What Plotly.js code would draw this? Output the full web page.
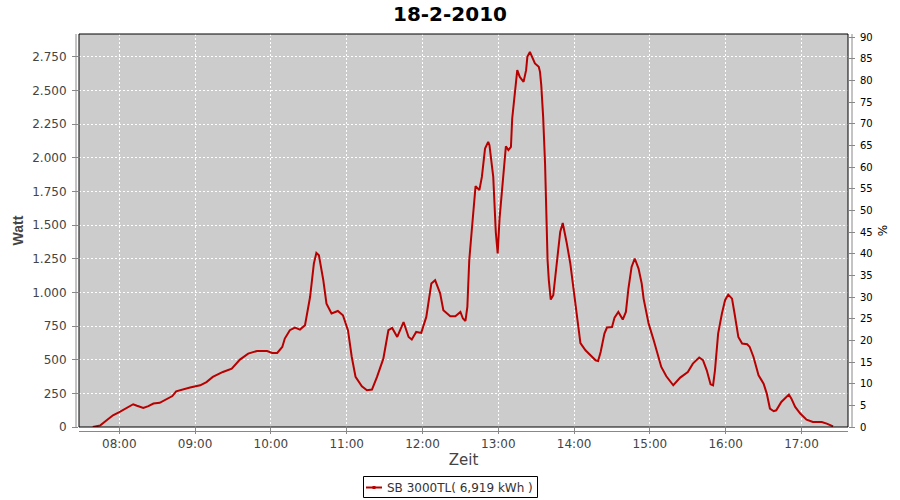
<!DOCTYPE html>
<html>
<head>
<meta charset="utf-8">
<script src="https://cdn.plot.ly/plotly-3.0.1.min.js"></script>
<style>
html,body{margin:0;padding:0;background:#fff}#chart{width:900px;height:500px}
</style>
</head>
<body>
<div id="chart"></div>
<script>
// Chart values
const chartTitle = "18-2-2010";
const day = "2010-02-18";
const seriesName = "SB 3000TL( 6,919 kWh )";
const times = [
 "07:39","07:45","07:50","07:55","08:00","08:06","08:11","08:14","08:19","08:23",
 "08:27","08:32","08:37:30","08:42","08:45","08:50","08:56","09:04","09:09","09:14",
 "09:22","09:29","09:35:30","09:42","09:49","09:57","10:01","10:05","10:09","10:11",
 "10:15","10:19","10:23","10:27","10:31","10:34","10:36","10:38","10:41:30","10:44",
 "10:48","10:53","10:57","11:01","11:04","11:07","11:12","11:16","11:20","11:24",
 "11:29","11:33","11:36","11:40","11:45","11:49","11:51:30","11:55","11:59","12:03",
 "12:07","12:10","12:14","12:16:30","12:22","12:26","12:30","12:32","12:34","12:35:30",
 "12:37","12:39","12:41","12:42","12:45","12:47","12:49:30","12:52","12:53","12:55",
 "12:56","12:58","12:59:30","13:01","13:04","13:06","13:08","13:10","13:11","13:13",
 "13:15","13:17","13:20","13:22","13:23","13:25","13:27","13:29","13:32","13:33",
 "13:34","13:35:30","13:37","13:38","13:39","13:40","13:41:30","13:43:30","13:45","13:47",
 "13:49","13:51","13:52","13:54","13:57","13:59","14:01","14:02:30","14:05","14:09",
 "14:13","14:17","14:19","14:21","14:24","14:26","14:30","14:32","14:35","14:38:30",
 "14:41","14:43","14:45:30","14:48","14:51","14:53:30","14:55","14:59","15:03","15:07",
 "15:09","15:13","15:18:30","15:24","15:30","15:34","15:39","15:42","15:45","15:48",
 "15:50","15:51:30","15:54","15:57","15:59:30","16:02","16:05","16:07","16:10","16:13",
 "16:17","16:19","16:22","16:26","16:30","16:32:30","16:35","16:38","16:40","16:44",
 "16:50","16:52","16:55","16:59","17:04","17:09","17:16","17:20","17:25"
];
const watt = [
 0,12,50,87,111,141,169,158,141,155,
 174,180,206,230,265,280,293,310,334,372,
 409,434,501,545,565,565,550,550,595,657,
 719,739,724,756,966,1214,1293,1276,1090,917,
 843,862,830,719,520,372,302,273,278,372,
 508,719,736,669,780,669,650,706,699,818,
 1066,1090,992,868,823,823,855,806,788,892,
 1239,1462,1650,1790,1760,1858,2069,2118,2094,1958,
 1858,1450,1290,1550,1858,2086,2057,2081,2292,2478,
 2651,2601,2564,2651,2750,2787,2750,2701,2676,2639,
 2540,2304,1960,1586,1239,1090,947,979,1115,1301,
 1449,1516,1474,1375,1214,1066,917,768,624,570,
 533,496,491,557,694,739,743,813,855,798,
 855,1029,1189,1252,1177,1066,954,768,644,520,
 446,377,310,367,409,471,516,496,421,317,
 310,421,694,843,942,984,954,843,669,620,
 615,595,520,384,322,248,137,117,124,186,
 241,211,149,100,55,37,37,25,5
];
const xRange = ["07:28:06","17:36:48"];
const wattRange = [0, 2920];
const pctRange = [0, 90.7];
const xTitle = "Zeit", yTitle = "Watt", y2Title = "%";

const tick = "DejaVu Sans, sans-serif";
const lineColor = "#b80000";
const xs = times.map(t => day + " " + (t.length === 5 ? t + ":00" : t));

const traces = [
  {x: xs, y: watt, type: "scatter", mode: "lines", name: seriesName,
   line: {color: lineColor, width: 2}, hoverinfo: "x+y", showlegend: false},
  {x: [], y: [], type: "scatter", mode: "lines", yaxis: "y2", showlegend: false, hoverinfo: "skip"}
];

// pixel helpers for the legend box placed under the plot (plot area 79..848 x 34..427)
const px = v => (v - 79) / 769;
const py = v => (427 - v) / 393;

const layout = {
  width: 900, height: 500,
  margin: {l: 79, r: 52, t: 34, b: 73},
  paper_bgcolor: "#ffffff", plot_bgcolor: "#cccccc",
  separators: ",.",
  showlegend: false,
  title: {text: chartTitle, x: 0.5, xanchor: "center", xref: "container",
          y: 0.973, yanchor: "middle", yref: "container",
          font: {family: "DejaVu Sans, sans-serif", size: 20, color: "#000", weight: "bold"}},
  xaxis: {
    type: "date", range: xRange.map(t => day + " " + t),
    tick0: day + " 08:00:00", dtick: 3600000, tickformat: "%H:%M",
    showgrid: true, gridcolor: "#ffffff", gridwidth: 1, griddash: "2px,2px",
    zeroline: false, showline: false,
    ticks: "outside", ticklen: 6, tickcolor: "#888888", tickwidth: 1,
    tickfont: {family: tick, size: 12, color: "#444444"},
    title: {text: xTitle, font: {family: tick, size: 15, color: "#444444"}, standoff: 4}
  },
  yaxis: {
    range: wattRange, dtick: 250, tick0: 0, tickformat: ",d",
    showgrid: true, gridcolor: "#ffffff", gridwidth: 1, griddash: "2px,2px",
    zeroline: false, showline: false,
    ticks: "outside", ticklen: 6, tickcolor: "#888888", tickwidth: 1,
    ticklabelstandoff: 3,
    tickfont: {family: tick, size: 12, color: "#444444"},
    title: {text: yTitle, font: {family: "Liberation Sans, Arial, sans-serif", size: 14, color: "#444444", weight: "bold"}, standoff: 5}
  },
  yaxis2: {
    overlaying: "y", side: "right", range: pctRange, dtick: 5, tick0: 0,
    showgrid: false, zeroline: false, showline: false,
    ticks: "outside", ticklen: 6, tickcolor: "#888888", tickwidth: 1,
    ticklabelstandoff: 3,
    tickfont: {family: tick, size: 10, color: "#000000"},
    title: {text: y2Title, font: {family: tick, size: 12, color: "#000000"}, standoff: 6}
  },
  annotations: [
    {text: seriesName, xref: "paper", yref: "paper", x: px(385), y: py(487.5),
     xanchor: "left", yanchor: "middle", showarrow: false,
     font: {family: tick, size: 12, color: "#333333"}}
  ],
  shapes: [
    {type: "line", xref: "paper", yref: "paper", x0: px(76), x1: px(76), y0: 0, y1: 1, line: {color: "#888888", width: 1}},
    {type: "line", xref: "paper", yref: "paper", x0: px(852), x1: px(852), y0: 0, y1: 1, line: {color: "#888888", width: 1}},
    {type: "line", xref: "paper", yref: "paper", x0: 0, x1: 1, y0: py(431.5), y1: py(431.5), line: {color: "#888888", width: 1}},
    {type: "rect", xref: "paper", yref: "paper", x0: 0, x1: 1, y0: 0, y1: 1, line: {color: "#000000", width: 1}, layer: "above"},
    // legend box
    {type: "rect", xref: "paper", yref: "paper", x0: px(363.5), x1: px(537.5), y0: py(497.5), y1: py(476.5), line: {color: "#000000", width: 1}, fillcolor: "#ffffff"},
    {type: "line", xref: "paper", yref: "paper", x0: px(366), x1: px(382), y0: py(487.5), y1: py(487.5), line: {color: lineColor, width: 2}},
    {type: "rect", xref: "paper", yref: "paper", x0: px(372.5), x1: px(375.5), y0: py(489), y1: py(486), line: {width: 0}, fillcolor: lineColor}
  ]
};

Plotly.newPlot("chart", traces, layout, {displayModeBar: false, staticPlot: true});
</script>
</body>
</html>
